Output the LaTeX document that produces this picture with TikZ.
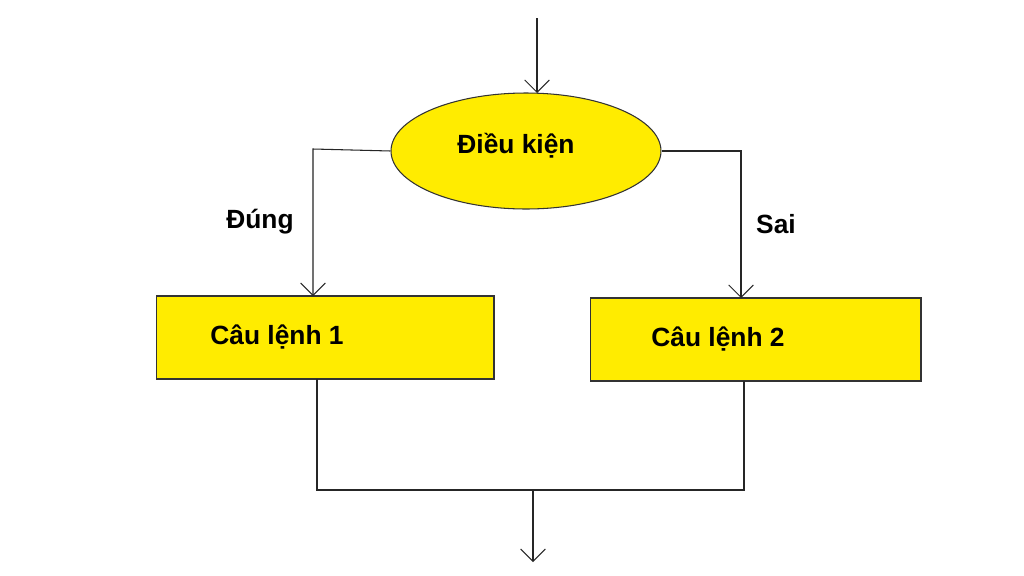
\documentclass[tikz,border=0pt]{standalone}
\usepackage{fontspec}
\setmainfont{Liberation Sans}
\usetikzlibrary{arrows.meta,shapes.geometric}
\definecolor{yel}{RGB}{255,236,0}
\begin{document}
\begin{tikzpicture}[x=0.02cm,y=-0.02cm,
  blk/.style={draw=black!80,line width=0.6pt,fill=yel},
  ln/.style={line width=0.6pt,draw=black!85},
  arr/.style={ln,-{Straight Barb[length=7pt,width=14pt]}},
  lbl/.style={font=\fontsize{15}{18}\selectfont\bfseries}]
\fill[white] (0,0) rectangle (1024,575);
\node[blk,ellipse,minimum width=270\pgflinewidth*0+5.4cm,minimum height=2.32cm,inner sep=0pt] (cond) at (526,151) {};
\node[lbl] (ct) at (516,146) {Điều kiện};
\node[blk,rectangle,minimum width=6.76cm,minimum height=1.66cm,inner sep=0pt] (b1) at (325,337.5) {};
\node[blk,rectangle,minimum width=6.62cm,minimum height=1.66cm,inner sep=0pt] (b2) at (755.5,339.5) {};
\node[lbl] (t1) at (277,337) {Câu lệnh 1};
\node[lbl] (t2) at (718,339) {Câu lệnh 2};
\node[lbl] (d) at (260,222) {Đúng};
\node[lbl] (s) at (776,224) {Sai};
\coordinate (top) at (537,18);
\coordinate (l1) at (313,149);
\coordinate (r1) at (741,151);
\coordinate (bl) at (317,490);
\coordinate (br) at (744,490);
\coordinate (m) at (533,490);
\coordinate (end) at (533,562);
\draw[arr] (top) -- (537,93);
\draw[arr] (cond.west) -- (l1) -- (313,296);
\draw[arr] (cond.east) -- (r1) -- (741,298);
\draw[ln] (317,379) -- (bl) -- (br) -- (744,381);
\draw[arr] (m) -- (end);
\end{tikzpicture}
\end{document}
